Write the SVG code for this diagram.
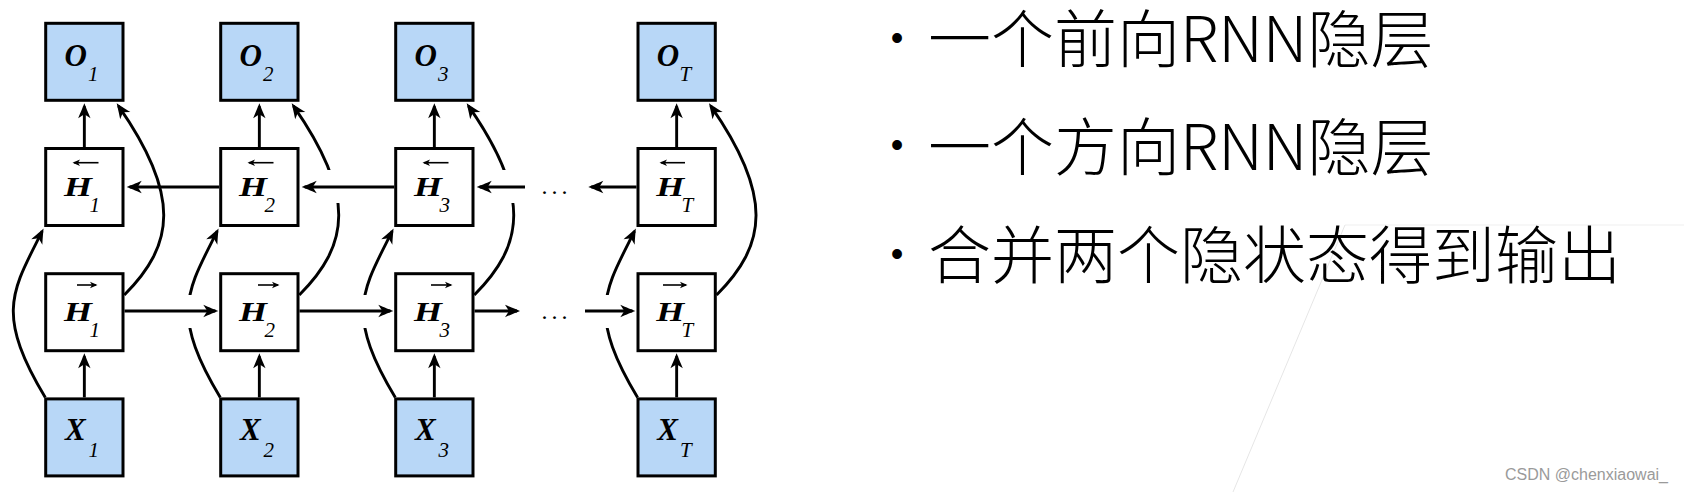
<svg xmlns="http://www.w3.org/2000/svg" width="1684" height="492" viewBox="0 0 1684 492">
<defs>
<style>
.box{fill:#fff;stroke:#000;stroke-width:3}
.blue{fill:#b8d7f7}
.m{font-family:"Liberation Serif",serif;font-weight:bold;font-style:italic;font-size:31px;fill:#000}
.h{font-family:"Liberation Serif",serif;font-weight:bold;font-style:italic;font-size:28px;fill:#000}
.s{font-family:"Liberation Serif",serif;font-style:italic;font-size:21px;fill:#000}
.c{fill:none;stroke:#000;stroke-width:2.9}
.a{marker-end:url(#ah)}
.sm{fill:none;stroke:#000;stroke-width:1.6;marker-end:url(#sa)}
.dots{font-family:"Liberation Serif",serif;font-size:24px;letter-spacing:4px;fill:#000}
.cn{font-family:"Noto Sans CJK SC","Noto Sans",sans-serif;font-weight:300;font-size:63px;fill:#000}
.bul{font-family:"Liberation Sans",sans-serif;font-size:36px;fill:#000}
.wm{font-family:"Liberation Sans",Arial,sans-serif;font-size:16px;fill:#9a9a9a}
</style>
<marker id="ah" markerUnits="userSpaceOnUse" markerWidth="20" markerHeight="20" refX="0" refY="0" orient="auto" style="overflow:visible">
<path d="M3 0 C0 -1.2 -6 -3.6 -12 -6.2 L-8 0 L-12 6.2 C-6 3.6 0 1.2 3 0Z" fill="#000"/>
</marker>
<marker id="sa" markerUnits="userSpaceOnUse" markerWidth="10" markerHeight="10" refX="0" refY="0" orient="auto" style="overflow:visible">
<path d="M1.5 0 L-6 -3.2 L-4 0 L-6 3.2Z" fill="#000"/>
</marker>
<mask id="gaps" maskUnits="userSpaceOnUse" x="0" y="0" width="1684" height="492">
<rect x="0" y="0" width="1684" height="492" fill="#fff"/>
<rect x="170" y="295" width="36" height="33" fill="#000"/>
<rect x="345" y="295" width="36" height="33" fill="#000"/>
<rect x="588" y="295" width="36" height="33" fill="#000"/>
<rect x="315" y="170" width="40" height="33" fill="#000"/>
<rect x="490" y="170" width="40" height="33" fill="#000"/>
</mask>
</defs>
<rect x="0" y="0" width="1684" height="492" fill="#fff"/>
<g id="background-lines">
<line x1="1345" y1="225" x2="1684" y2="225" stroke="#efefef" stroke-width="1"/>
<line x1="1345" y1="225" x2="1233" y2="492" stroke="#e6e6e6" stroke-width="1"/>
</g>

<g id="connectors">
<path class="c a" d="M84.35 147 V106.3"/>
<path class="c a" d="M259.35 147 V106.3"/>
<path class="c a" d="M434.35 147 V106.3"/>
<path class="c a" d="M676.65 147 V106.3"/>
<path class="c a" d="M84.35 397.4 V356.3"/>
<path class="c a" d="M259.35 397.4 V356.3"/>
<path class="c a" d="M434.35 397.4 V356.3"/>
<path class="c a" d="M676.65 397.4 V356.3"/>
<path class="c a" d="M219.2 187 H129.7"/>
<path class="c a" d="M394.2 187 H304.7"/>
<path class="c a" d="M525 187 H479.7"/>
<path class="c a" d="M636.5 187 H591.3"/>
<path class="c a" d="M124.5 311 H215.3"/>
<path class="c a" d="M299.5 311 H390.3"/>
<path class="c a" d="M474.5 311 H517"/>
<path class="c a" d="M585 311 H632.3"/>
<g mask="url(#gaps)">
<path class="c a" d="M45.3 397.6 C-5.3 313 12.2 291.2 42.2 231.2"/>
<path class="c a" d="M220.3 397.6 C169.7 313 187.2 291.2 217.2 231.2"/>
<path class="c a" d="M395.3 397.6 C344.7 313 362.2 291.2 392.2 231.2"/>
<path class="c a" d="M637.6 397.6 C587 313 604.5 291.2 634.5 231.2"/>
<path class="c a" d="M124.3 295 C174.3 245 181.4 195.9 118.4 105.8"/>
<path class="c a" d="M299.3 295 C349.3 245 356.4 195.9 293.4 105.8"/>
<path class="c a" d="M474.3 295 C524.3 245 531.4 195.9 468.4 105.8"/>
<path class="c a" d="M716.6 295 C766.6 245 773.7 195.9 710.7 105.8"/>
</g>
<text class="dots" x="541.5" y="194">...</text>
<text class="dots" x="541.5" y="319">...</text>
</g>

<g id="o1"><rect class="box blue" x="45.7" y="23.3" width="77.3" height="77"/><text class="m" x="64.5" y="66">O</text><text class="s" x="88" y="81">1</text></g>
<g id="o2"><rect class="box blue" x="220.7" y="23.3" width="77.3" height="77"/><text class="m" x="239.5" y="66">O</text><text class="s" x="263" y="81">2</text></g>
<g id="o3"><rect class="box blue" x="395.7" y="23.3" width="77.3" height="77"/><text class="m" x="414.5" y="66">O</text><text class="s" x="438" y="81">3</text></g>
<g id="oT"><rect class="box blue" x="638" y="23.3" width="77.3" height="77"/><text class="m" x="656.8" y="66">O</text><text class="s" x="679.5" y="81">T</text></g>

<g id="hb1"><rect class="box" x="45.7" y="148.5" width="77.3" height="77"/><path class="sm" d="M98.5 162.7 H74"/><text class="h" x="64" y="196" textLength="28" lengthAdjust="spacingAndGlyphs">H</text><text class="s" x="89.5" y="212">1</text></g>
<g id="hb2"><rect class="box" x="220.7" y="148.5" width="77.3" height="77"/><path class="sm" d="M273.5 162.7 H249"/><text class="h" x="239" y="196" textLength="28" lengthAdjust="spacingAndGlyphs">H</text><text class="s" x="264.5" y="212">2</text></g>
<g id="hb3"><rect class="box" x="395.7" y="148.5" width="77.3" height="77"/><path class="sm" d="M448.5 162.7 H424"/><text class="h" x="414" y="196" textLength="28" lengthAdjust="spacingAndGlyphs">H</text><text class="s" x="439.5" y="212">3</text></g>
<g id="hbT"><rect class="box" x="638" y="148.5" width="77.3" height="77"/><path class="sm" d="M685 162.7 H661"/><text class="h" x="656.3" y="196" textLength="28" lengthAdjust="spacingAndGlyphs">H</text><text class="s" x="681.5" y="212">T</text></g>

<g id="hf1"><rect class="box" x="45.7" y="273.7" width="77.3" height="77"/><path class="sm" d="M77 285 H96"/><text class="h" x="64" y="321" textLength="28" lengthAdjust="spacingAndGlyphs">H</text><text class="s" x="89.5" y="337">1</text></g>
<g id="hf2"><rect class="box" x="220.7" y="273.7" width="77.3" height="77"/><path class="sm" d="M258 285 H278"/><text class="h" x="239" y="321" textLength="28" lengthAdjust="spacingAndGlyphs">H</text><text class="s" x="264.5" y="337">2</text></g>
<g id="hf3"><rect class="box" x="395.7" y="273.7" width="77.3" height="77"/><path class="sm" d="M431 285 H451"/><text class="h" x="414" y="321" textLength="28" lengthAdjust="spacingAndGlyphs">H</text><text class="s" x="439.5" y="337">3</text></g>
<g id="hfT"><rect class="box" x="638" y="273.7" width="77.3" height="77"/><path class="sm" d="M663 285 H686"/><text class="h" x="656.3" y="321" textLength="28" lengthAdjust="spacingAndGlyphs">H</text><text class="s" x="681.5" y="337">T</text></g>

<g id="x1"><rect class="box blue" x="45.7" y="398.9" width="77.3" height="77"/><text class="m" x="65" y="440">X</text><text class="s" x="88.5" y="457">1</text></g>
<g id="x2"><rect class="box blue" x="220.7" y="398.9" width="77.3" height="77"/><text class="m" x="240" y="440">X</text><text class="s" x="263.5" y="457">2</text></g>
<g id="x3"><rect class="box blue" x="395.7" y="398.9" width="77.3" height="77"/><text class="m" x="415" y="440">X</text><text class="s" x="438.5" y="457">3</text></g>
<g id="xT"><rect class="box blue" x="638" y="398.9" width="77.3" height="77"/><text class="m" x="657.3" y="440">X</text><text class="s" x="680" y="457">T</text></g>

<g id="bullets">
<text class="bul" x="897" y="50" text-anchor="middle">•</text>
<text class="cn" x="928" y="61.5">一个前向RNN隐层</text>
<text class="bul" x="897" y="157" text-anchor="middle">•</text>
<text class="cn" x="928" y="169.5">一个方向RNN隐层</text>
<text class="bul" x="897" y="266" text-anchor="middle">•</text>
<text class="cn" x="928" y="278">合并两个隐状态得到输出</text>
</g>
<text class="wm" x="1668" y="480" text-anchor="end">CSDN @chenxiaowai_</text>
</svg>
